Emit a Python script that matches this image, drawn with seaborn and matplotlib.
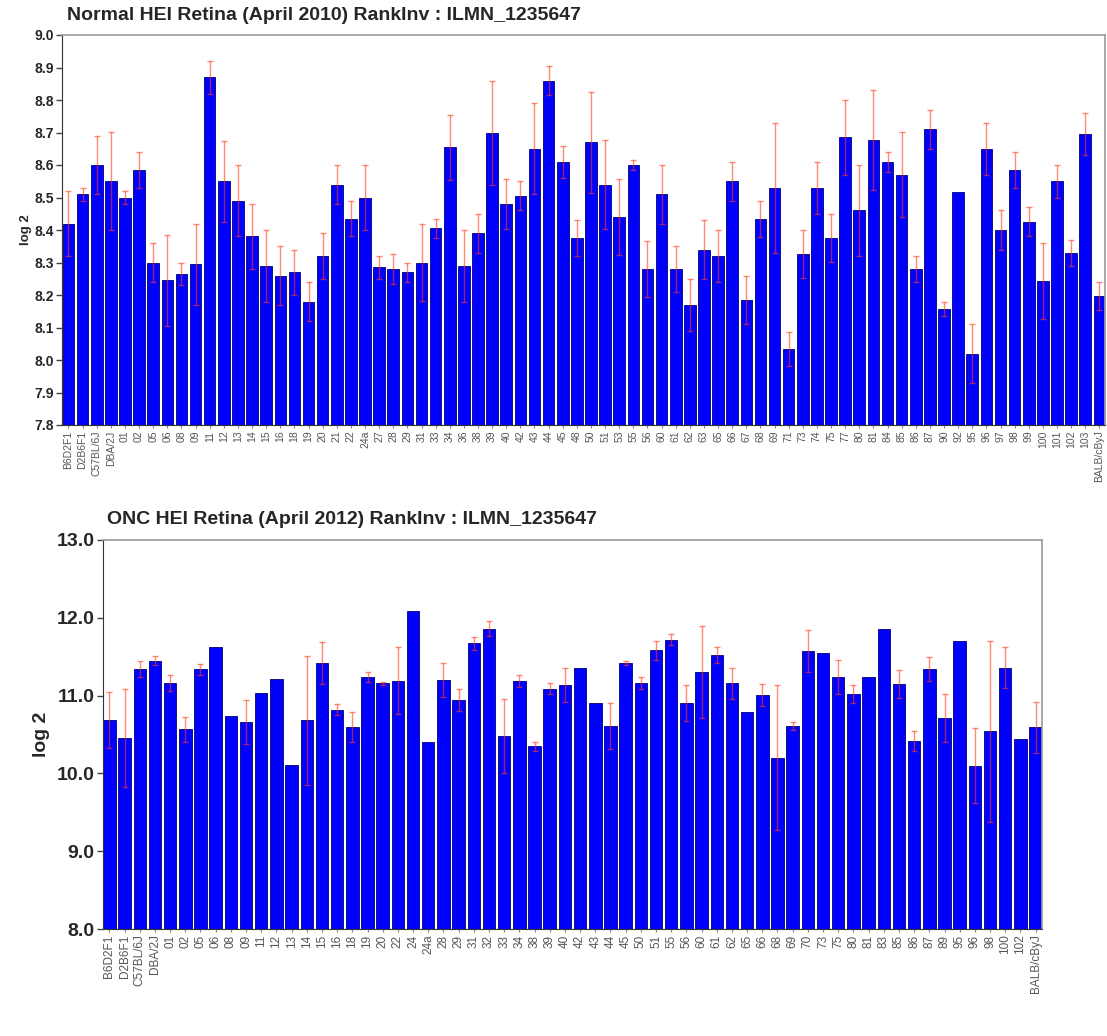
import numpy as np
import matplotlib
matplotlib.use("Agg")
import matplotlib.pyplot as plt
from matplotlib.ticker import FormatStrFormatter
import seaborn as sns

# Top panel: Normal HEI Retina (April 2010), RankInv ILMN_1235647
normal_strains = ['B6D2F1', 'D2B6F1', 'C57BL/6J', 'DBA/2J', '01', '02', '05', '06', '08', '09',
                  '11', '12', '13', '14', '15', '16', '18', '19', '20', '21',
                  '22', '24a', '27', '28', '29', '31', '33', '34', '36', '38',
                  '39', '40', '42', '43', '44', '45', '48', '50', '51', '53',
                  '55', '56', '60', '61', '62', '63', '65', '66', '67', '68',
                  '69', '71', '73', '74', '75', '77', '80', '81', '84', '85',
                  '86', '87', '90', '92', '95', '96', '97', '98', '99', '100',
                  '101', '102', '103', 'BALB/cByJ']
normal_means = [8.42, 8.51, 8.60, 8.55, 8.50, 8.585, 8.30, 8.246, 8.265, 8.295,
                8.87, 8.55, 8.49, 8.38, 8.29, 8.26, 8.27, 8.18, 8.32, 8.54,
                8.435, 8.50, 8.285, 8.28, 8.27, 8.30, 8.405, 8.655, 8.29, 8.39,
                8.70, 8.48, 8.505, 8.65, 8.86, 8.61, 8.375, 8.67, 8.54, 8.44,
                8.60, 8.28, 8.51, 8.28, 8.17, 8.34, 8.32, 8.55, 8.185, 8.434,
                8.53, 8.034, 8.326, 8.53, 8.376, 8.685, 8.46, 8.677, 8.61, 8.57,
                8.28, 8.71, 8.157, 8.517, 8.02, 8.65, 8.40, 8.585, 8.425, 8.243,
                8.55, 8.33, 8.695, 8.197]
normal_se = [0.10, 0.02, 0.09, 0.15, 0.02, 0.055, 0.06, 0.14, 0.035, 0.125,
             0.05, 0.125, 0.11, 0.10, 0.11, 0.09, 0.07, 0.06, 0.07, 0.06,
             0.055, 0.10, 0.035, 0.046, 0.03, 0.12, 0.03, 0.10, 0.11, 0.06,
             0.16, 0.077, 0.045, 0.14, 0.045, 0.05, 0.055, 0.156, 0.137, 0.117,
             0.015, 0.085, 0.09, 0.07, 0.08, 0.09, 0.08, 0.06, 0.075, 0.056,
             0.20, 0.051, 0.074, 0.08, 0.074, 0.115, 0.14, 0.153, 0.03, 0.13,
             0.04, 0.06, 0.023, 0.0, 0.09, 0.08, 0.06, 0.055, 0.045, 0.117,
             0.05, 0.04, 0.065, 0.043]

# Bottom panel: ONC HEI Retina (April 2012), RankInv ILMN_1235647
onc_strains = ['B6D2F1', 'D2B6F1', 'C57BL/6J', 'DBA/2J', '01', '02', '05', '06', '08', '09',
               '11', '12', '13', '14', '15', '16', '18', '19', '20', '22',
               '24', '24a', '28', '29', '31', '32', '33', '34', '38', '39',
               '40', '42', '43', '44', '45', '50', '51', '55', '56', '60',
               '61', '62', '65', '66', '68', '69', '70', '73', '75', '80',
               '81', '83', '85', '86', '87', '89', '95', '96', '98', '100',
               '102', 'BALB/cByJ']
onc_means = [10.69, 10.46, 11.34, 11.45, 11.16, 10.57, 11.34, 11.62, 10.74, 10.66,
             11.03, 11.21, 10.11, 10.68, 11.42, 10.82, 10.60, 11.24, 11.16, 11.19,
             12.09, 10.41, 11.20, 10.94, 11.67, 11.86, 10.48, 11.19, 10.35, 11.09,
             11.14, 11.36, 10.91, 10.61, 11.42, 11.16, 11.58, 11.72, 10.90, 11.30,
             11.52, 11.16, 10.79, 11.01, 10.20, 10.61, 11.57, 11.55, 11.24, 11.02,
             11.24, 11.86, 11.15, 10.42, 11.34, 10.71, 11.70, 10.10, 10.54, 11.36,
             10.44, 10.59]
onc_se = [0.36, 0.63, 0.10, 0.06, 0.10, 0.16, 0.07, 0.0, 0.0, 0.28,
          0.0, 0.0, 0.0, 0.83, 0.27, 0.07, 0.19, 0.06, 0.02, 0.43,
          0.0, 0.0, 0.22, 0.14, 0.08, 0.10, 0.48, 0.08, 0.06, 0.07,
          0.22, 0.0, 0.0, 0.29, 0.03, 0.08, 0.12, 0.07, 0.23, 0.59,
          0.10, 0.20, 0.0, 0.14, 0.93, 0.05, 0.27, 0.0, 0.22, 0.11,
          0.0, 0.0, 0.18, 0.13, 0.15, 0.31, 0.0, 0.48, 1.16, 0.26,
          0.0, 0.33]

sns.set_style("white")
plt.rcParams['font.family'] = ['Liberation Sans', 'DejaVu Sans']

W, H = 1107, 1036
fig = plt.figure(figsize=(W / 100, H / 100), dpi=100)


def draw_panel(ax, strains, means, se, ylim, yticks, xlim, title,
               xfs, yfs, lfs, tfs, title_dx, title_y, label_x):
    sns.barplot(x=strains, y=means, color='#0000ff', saturation=1, width=0.82,
                edgecolor='#00007a', linewidth=0.6, errorbar=None, ax=ax)
    means = np.array(means)
    se = np.array(se)
    idx = np.nonzero(se > 0)[0]
    ax.errorbar(idx, means[idx], yerr=se[idx], fmt='none', ecolor='#ff3a1a',
                alpha=0.6, elinewidth=1.0, capsize=2, capthick=1.0, zorder=5)

    ax.set_ylim(*ylim)
    ax.set_xlim(*xlim)
    ax.set_yticks(yticks)
    ax.yaxis.set_major_formatter(FormatStrFormatter('%.1f'))
    ax.tick_params(axis='y', left=True, length=4, width=1, color='#444444',
                   labelsize=yfs, pad=2)
    for lab in ax.get_yticklabels():
        lab.set_fontweight('bold')
    ax.set_xticks(range(len(strains)))
    ax.set_xticklabels(strains, rotation=90, fontsize=xfs, color='#555555')
    ax.tick_params(axis='x', bottom=True, length=2, color='#888888', pad=2)
    ax.set_xlabel('')
    ax.set_ylabel('log 2', fontsize=lfs, fontweight='bold')
    ax.yaxis.set_label_coords(label_x, 0.5)

    for side in ['top', 'right']:
        ax.spines[side].set_color('#9a9a9a')
        ax.spines[side].set_linewidth(1.2)
    ax.spines['left'].set_color('#333333')
    ax.spines['bottom'].set_color('#333333')

    ax.text(title_dx, title_y, title, transform=ax.transAxes, fontsize=tfs,
            fontweight='bold', ha='left', va='bottom')


ax1 = fig.add_axes([62 / W, 1 - 425 / H, 1043 / W, 390 / H])
draw_panel(ax1, normal_strains, normal_means, normal_se,
           (7.8, 9.0), np.round(np.arange(7.8, 9.01, 0.1), 1), (-0.46, 73.4),
           'Normal HEI Retina (April 2010) RankInv : ILMN_1235647',
           xfs=7.5, yfs=10, lfs=9.5, tfs=14, title_dx=0.005, title_y=1.028,
           label_x=-0.029)

ax2 = fig.add_axes([103 / W, 1 - 929 / H, 939 / W, 389 / H])
draw_panel(ax2, onc_strains, onc_means, onc_se,
           (8.0, 13.0), np.arange(8.0, 13.01, 1.0), (-0.42, 61.42),
           'ONC HEI Retina (April 2012) RankInv : ILMN_1235647',
           xfs=8.5, yfs=14, lfs=14, tfs=14, title_dx=0.004, title_y=1.03,
           label_x=-0.056)

fig.savefig('out.png', dpi=100, facecolor='white')
